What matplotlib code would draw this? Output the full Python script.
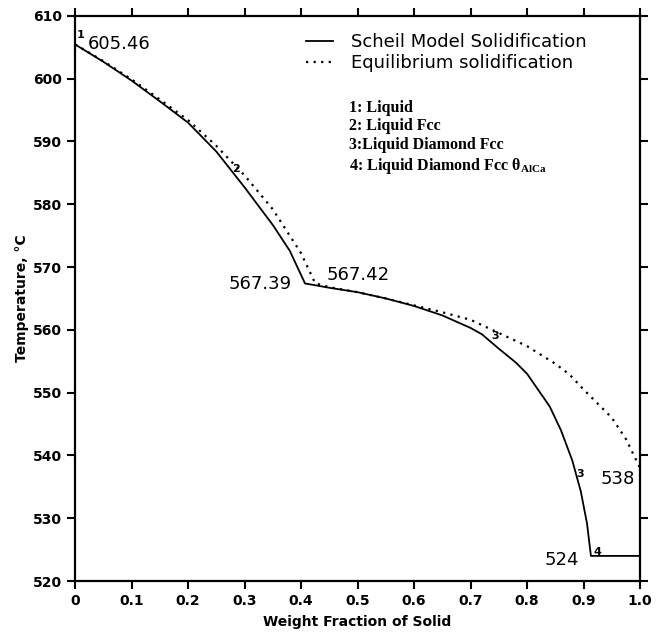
import matplotlib.pyplot as plt
import numpy as np

plt.rcParams['mathtext.fontset'] = 'custom'
plt.rcParams['mathtext.rm'] = 'Liberation Serif:bold'

# Scheil (non-equilibrium) solidification path
scheil_fs = [0, 0.05, 0.10, 0.15, 0.20, 0.25, 0.30, 0.35, 0.38, 0.407, 0.45, 0.50,
             0.55, 0.60, 0.65, 0.70, 0.72, 0.75, 0.78, 0.80, 0.82, 0.84, 0.86,
             0.88, 0.895, 0.906, 0.913, 1.0]
scheil_T = [605.46, 602.7, 599.7, 596.4, 593.0, 588.4, 582.7, 576.7, 572.6, 567.39,
            566.7, 566.0, 565.0, 563.8, 562.3, 560.3, 559.3, 557.0, 554.8, 553.0,
            550.4, 547.8, 544.0, 539.2, 534.3, 529.2, 524.0, 524.0]

# equilibrium (lever rule) solidification path
eq_fs = [0, 0.05, 0.10, 0.15, 0.20, 0.25, 0.30, 0.35, 0.40, 0.425, 0.45, 0.50,
         0.55, 0.60, 0.65, 0.70, 0.75, 0.80, 0.85, 0.875, 0.90, 0.95, 0.975, 1.0]
eq_T = [605.46, 602.8, 599.9, 596.7, 593.4, 589.3, 584.6, 579.2, 572.2, 567.42,
        566.8, 566.0, 565.0, 563.9, 562.8, 561.6, 559.5, 557.4, 554.6, 552.9,
        550.5, 546.0, 542.6, 538.0]

xticks = np.arange(0, 1.01, 0.1)
xlabels = ['0', '0.1', '0.2', '0.3', '0.4', '0.5', '0.6', '0.7', '0.8', '0.9', '1.0']
yticks = np.arange(520, 611, 10)

phases = ['1: Liquid', '2: Liquid Fcc', '3:Liquid Diamond Fcc',
          '4: Liquid Diamond Fcc θ$_{\\mathrm{AlCa}}$']

fig = plt.figure(figsize=(6.64, 6.35), dpi=100)
ax = fig.add_axes([0.113, 0.085, 0.851, 0.89])

ax.plot(scheil_fs, scheil_T, color='black', lw=1.3, label='Scheil Model Solidification')
ax.plot(eq_fs, eq_T, color='black', lw=1.6, ls=(0, (1, 2.4)), label='Equilibrium solidification')

ax.set_xlim(0, 1.0)
ax.set_ylim(520, 610)
ax.set_xticks(xticks)
ax.set_xticklabels(xlabels)
ax.set_yticks(yticks)
ax.tick_params(direction='out', length=6, width=1.5, labelsize=10,
               top=True, right=True)
for lab in ax.get_xticklabels() + ax.get_yticklabels():
    lab.set_fontweight('bold')
for sp in ax.spines.values():
    sp.set_linewidth(1.6)

ax.set_xlabel('Weight Fraction of Solid', fontsize=10, fontweight='bold', labelpad=5)
ax.set_ylabel('Temperature, °C', fontsize=10, fontweight='bold', labelpad=3)

ax.legend(loc='upper left', bbox_to_anchor=(0.408, 0.969), frameon=False,
          fontsize=13, handlelength=1.5, handletextpad=1.0, labelspacing=0.15,
          borderpad=0, borderaxespad=0)

# phase regions
ax.text(0.485, 0.851, '\n'.join(phases), transform=ax.transAxes, va='top', ha='left',
        family='Liberation Serif', fontweight='bold', fontsize=11.5, linespacing=1.2)

# temperature annotations
ax.text(0.023, 605.6, '605.46', fontsize=13, va='center', ha='left')
ax.text(0.384, 567.3, '567.39', fontsize=13, va='center', ha='right')
ax.text(0.446, 568.7, '567.42', fontsize=13, va='center', ha='left')
ax.text(0.991, 536.3, '538', fontsize=13, va='center', ha='right')
ax.text(0.892, 523.4, '524', fontsize=13, va='center', ha='right')

# phase-change markers along the curves
for x, y, s in [(0.009, 607.0, '1'), (0.285, 585.6, '2'), (0.743, 559.0, '3'),
                (0.894, 537.0, '3'), (0.924, 524.6, '4')]:
    ax.text(x, y, s, fontsize=8, fontweight='bold', ha='center', va='center')

fig.savefig('out.png', dpi=100)
